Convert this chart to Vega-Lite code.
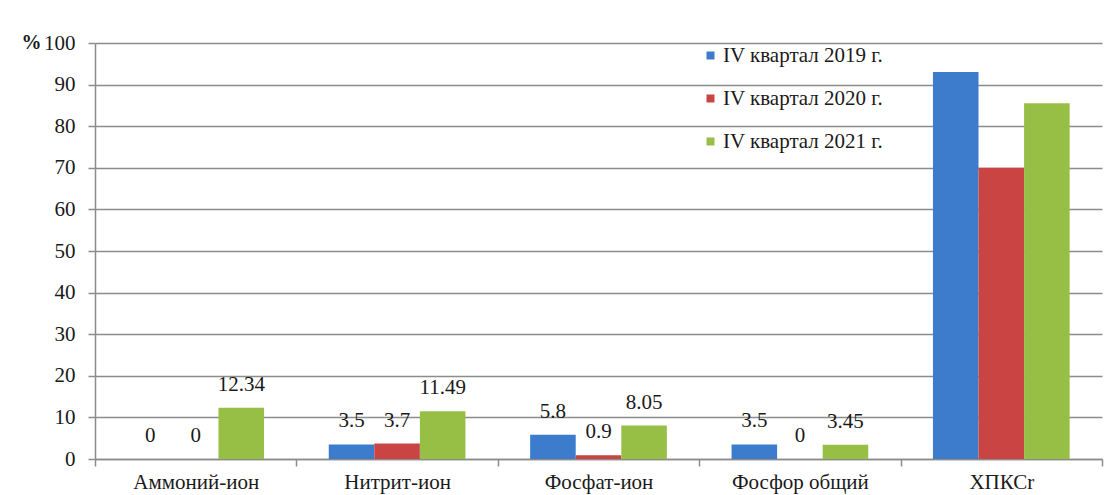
{
  "$schema": "https://vega.github.io/schema/vega-lite/v6.json",
  "autosize": "none",
  "width": 1007,
  "height": 416,
  "padding": {"left": 95, "top": 43, "right": 5, "bottom": 36},
  "background": "white",
  "data": {
    "values": [
      {"category": "Аммоний-ион", "series": "IV квартал 2019 г.", "value": 0},
      {"category": "Аммоний-ион", "series": "IV квартал 2020 г.", "value": 0},
      {"category": "Аммоний-ион", "series": "IV квартал 2021 г.", "value": 12.34},
      {"category": "Нитрит-ион", "series": "IV квартал 2019 г.", "value": 3.5},
      {"category": "Нитрит-ион", "series": "IV квартал 2020 г.", "value": 3.7},
      {"category": "Нитрит-ион", "series": "IV квартал 2021 г.", "value": 11.49},
      {"category": "Фосфат-ион", "series": "IV квартал 2019 г.", "value": 5.8},
      {"category": "Фосфат-ион", "series": "IV квартал 2020 г.", "value": 0.9},
      {"category": "Фосфат-ион", "series": "IV квартал 2021 г.", "value": 8.05},
      {"category": "Фосфор общий", "series": "IV квартал 2019 г.", "value": 3.5},
      {"category": "Фосфор общий", "series": "IV квартал 2020 г.", "value": 0},
      {"category": "Фосфор общий", "series": "IV квартал 2021 г.", "value": 3.45},
      {"category": "ХПКСr", "series": "IV квартал 2019 г.", "value": 93},
      {"category": "ХПКСr", "series": "IV квартал 2020 г.", "value": 70},
      {"category": "ХПКСr", "series": "IV квартал 2021 г.", "value": 85.5}
    ]
  },
  "encoding": {
    "x": {
      "field": "category",
      "type": "nominal",
      "sort": null,
      "scale": {"paddingInner": 0, "paddingOuter": 0},
      "axis": {
        "title": null,
        "labelAngle": 0,
        "tickBand": "extent",
        "tickSize": 7,
        "tickColor": "#8c8c8c",
        "tickWidth": 1.5,
        "domainColor": "#8c8c8c",
        "domainWidth": 1.5,
        "labelPadding": 5,
        "labelFont": "Liberation Serif, serif",
        "labelFontSize": 21,
        "labelColor": "#1a1a1a"
      }
    },
    "xOffset": {
      "field": "series",
      "type": "nominal",
      "scale": {"paddingInner": 0, "paddingOuter": 0.71}
    },
    "y": {
      "field": "value",
      "type": "quantitative",
      "scale": {"domain": [0, 100], "nice": false},
      "axis": {
        "values": [0, 10, 20, 30, 40, 50, 60, 70, 80, 90, 100],
        "title": "%",
        "titleAngle": 0,
        "titleAlign": "left",
        "titleBaseline": "alphabetic",
        "titleX": -74,
        "titleY": 5,
        "titleFont": "Liberation Serif, serif",
        "titleFontSize": 20,
        "titleFontWeight": "bold",
        "titleColor": "#1a1a1a",
        "grid": true,
        "gridColor": "#8c8c8c",
        "gridWidth": 1.5,
        "tickSize": 7,
        "tickColor": "#8c8c8c",
        "tickWidth": 1.5,
        "domainColor": "#8c8c8c",
        "domainWidth": 1.5,
        "labelPadding": 13,
        "labelFont": "Liberation Serif, serif",
        "labelFontSize": 21,
        "labelColor": "#1a1a1a"
      }
    }
  },
  "layer": [
    {
      "mark": {"type": "bar"},
      "encoding": {
        "color": {
          "field": "series",
          "type": "nominal",
          "scale": {"range": ["#3d7ccd", "#c94442", "#98bf45"]},
          "legend": {
            "title": null,
            "orient": "none",
            "legendX": 605,
            "legendY": 2,
            "symbolType": "square",
            "symbolSize": 64,
            "symbolStrokeWidth": 0,
            "labelFont": "Liberation Serif, serif",
            "labelFontSize": 21,
            "labelColor": "#1a1a1a",
            "labelLimit": 0,
            "labelOffset": 2,
            "rowPadding": 21
          }
        }
      }
    },
    {
      "transform": [{"filter": "datum.category !== 'ХПКСr'"}],
      "mark": {
        "type": "text",
        "baseline": "alphabetic",
        "dy": -17,
        "font": "Liberation Serif, serif",
        "fontSize": 21,
        "color": "#1a1a1a"
      },
      "encoding": {
        "text": {"field": "value", "type": "quantitative", "format": ".4~g"}
      }
    }
  ],
  "config": {
    "view": {"stroke": null}
  }
}
